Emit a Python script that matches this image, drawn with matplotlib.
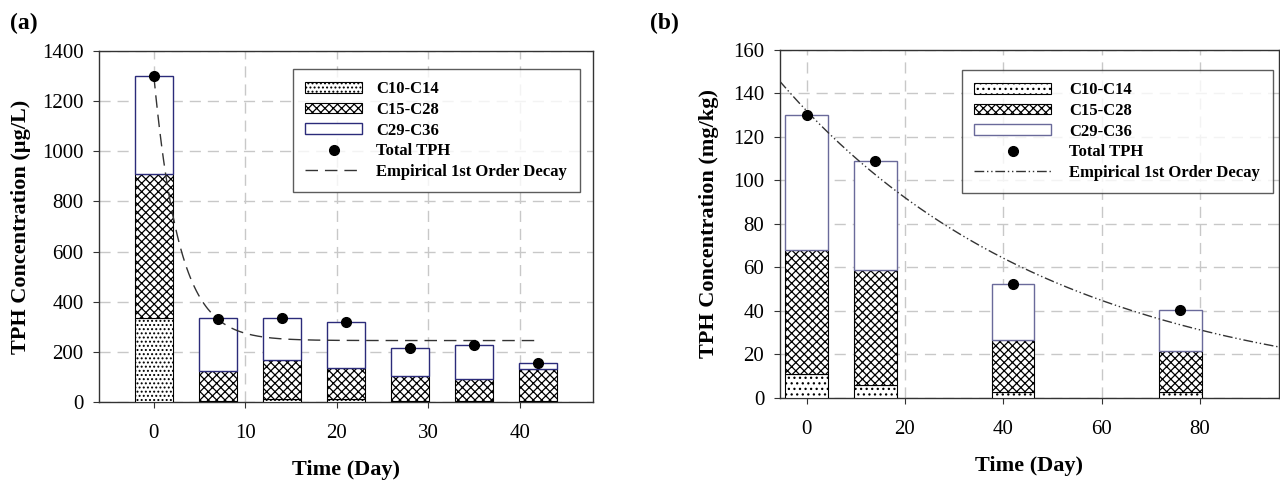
import numpy as np
import matplotlib.pyplot as plt

plt.rcParams['font.family'] = ['Liberation Serif', 'DejaVu Serif']
plt.rcParams['hatch.linewidth'] = 0.9

# panel (a) data, ug/L
days_a = [0, 7, 14, 21, 28, 35, 42]
c10_a = [335, 5, 10, 10, 3, 3, 5]
c15_a = [575, 120, 158, 125, 99, 89, 125]
c29_a = [390, 210, 167, 185, 113, 136, 25]
total_a = [1300, 330, 335, 320, 215, 228, 155]
# empirical decay a: C = Cinf + (C0 - Cinf) * exp(-k t)
c0_a, cinf_a, k_a = 1300, 245, 0.36

# panel (b) data, mg/kg
days_b = [0, 14, 42, 76]
c10_b = [11, 6, 2.5, 2.5]
c15_b = [57, 53, 24, 19]
c29_b = [62, 50, 26, 19]
total_b = [130, 109, 52.5, 40.5]
# empirical decay b: C = C0 * exp(-k t)
c0_b, k_b = 132, 0.018

navy = '#2b2b7a'
grid_c = '#c8c8c8'

fig = plt.figure(figsize=(12.8, 4.8), dpi=100)
ax1 = fig.add_axes([0.0773, 0.1625, 0.3860, 0.7315])
ax2 = fig.add_axes([0.609, 0.171, 0.390, 0.725])


def draw(ax, days, c10, c15, c29, total, width, dots_hatch, curve_x, curve_y, ls, edge29,
         hlen, hpad, anchor):
    days = np.array(days)
    c10 = np.array(c10)
    c15 = np.array(c15)
    b1 = ax.bar(days, c10, width, color='white', edgecolor='black', hatch=dots_hatch,
                linewidth=0.8, label='C10-C14', zorder=3)
    b2 = ax.bar(days, c15, width, bottom=c10, color='white', edgecolor='black', hatch='xxxx',
                linewidth=0.8, label='C15-C28', zorder=3)
    b3 = ax.bar(days, c29, width, bottom=c10 + c15, color='white', edgecolor=edge29,
                linewidth=1.0, label='C29-C36', zorder=3)
    p, = ax.plot(days, total, 'o', color='black', markersize=7, label='Total TPH', zorder=5)
    l, = ax.plot(curve_x, curve_y, color='#333333', linewidth=1.0, linestyle=ls,
                 label='Empirical 1st Order Decay', zorder=4)
    ax.grid(True, color=grid_c, linestyle=(0, (8, 5)), linewidth=1.0, zorder=0)
    ax.set_axisbelow(True)
    for s in ax.spines.values():
        s.set_color('#333333')
        s.set_linewidth(1.0)
    ax.tick_params(labelsize=15, direction='out', length=4, color='#333333')
    ax.tick_params(axis='x', pad=12)
    ax.tick_params(axis='y', pad=7)
    ax.set_xlabel('Time (Day)', fontsize=16, fontweight='bold', labelpad=12)
    leg = ax.legend([b1, b2, b3, p, l],
                    ['C10-C14', 'C15-C28', 'C29-C36', 'Total TPH', 'Empirical 1st Order Decay'],
                    loc='upper right', bbox_to_anchor=anchor, fancybox=False,
                    edgecolor='#333333', prop={'weight': 'bold', 'size': 12},
                    handlelength=hlen, handleheight=0.6, labelspacing=0.28,
                    handletextpad=hpad, borderpad=0.75, borderaxespad=0)
    leg.get_frame().set_linewidth(1.0)
    leg.set_zorder(10)


t_a = np.linspace(0, 42, 200)
draw(ax1, days_a, c10_a, c15_a, c29_a, total_a, 4.2, '....', t_a,
     cinf_a + (c0_a - cinf_a) * np.exp(-k_a * t_a), (0, (9, 5)), navy,
     3.4, 0.85, (0.973, 0.949))
ax1.set_xlim(-6, 48)
ax1.set_ylim(0, 1400)
ax1.set_xticks([0, 10, 20, 30, 40])
ax1.set_yticks(range(0, 1401, 200))
ax1.set_ylabel('TPH Concentration (µg/L)', fontsize=16, fontweight='bold', labelpad=8)

t_b = np.linspace(-5.5, 96, 200)
draw(ax2, days_b, c10_b, c15_b, c29_b, total_b, 8.6, '...', t_b,
     c0_b * np.exp(-k_b * t_b), (0, (7, 2, 1, 2, 1, 2)), '#6a6a9a',
     4.6, 1.1, (0.988, 0.943))
ax2.set_xlim(-5.5, 96)
ax2.set_ylim(0, 160)
ax2.set_xticks([0, 20, 40, 60, 80])
ax2.set_yticks(range(0, 161, 20))
ax2.set_ylabel('TPH Concentration (mg/kg)', fontsize=16, fontweight='bold', labelpad=10)

fig.text(0.008, 0.94, '(a)', fontsize=17, fontweight='bold')
fig.text(0.508, 0.94, '(b)', fontsize=17, fontweight='bold')

fig.savefig('out.png', dpi=100)
